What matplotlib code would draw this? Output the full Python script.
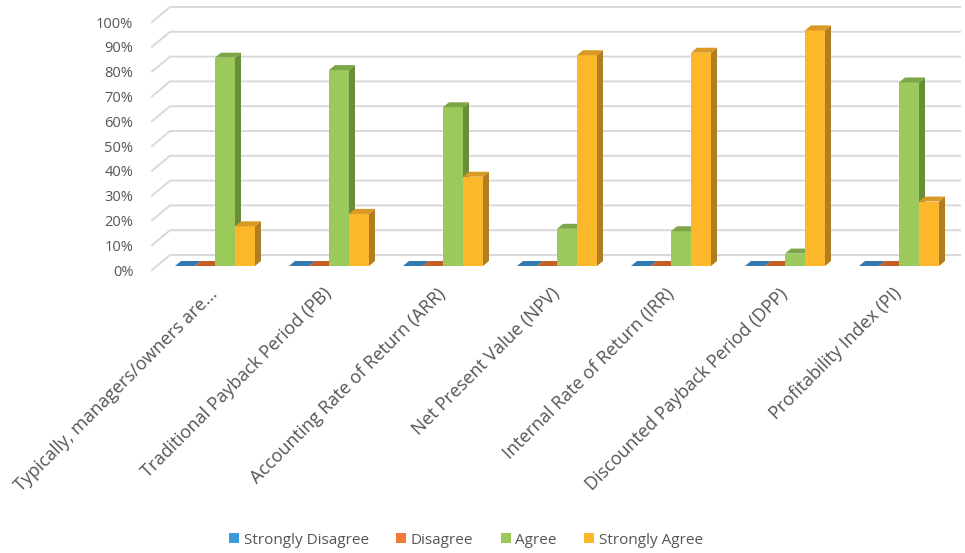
import numpy as np
import matplotlib.pyplot as plt
from matplotlib.patches import Polygon, Patch
from matplotlib.transforms import ScaledTranslation

plt.rcParams['font.family'] = ['Open Sans', 'DejaVu Sans']

# ================= DATA ================= #
categories = [
    "Typically, managers/owners are...",
    "Traditional Payback Period (PB)",
    "Accounting Rate of Return (ARR)",
    "Net Present Value (NPV)",
    "Internal Rate of Return (IRR)",
    "Discounted Payback Period (DPP)",
    "Profitability Index (PI)",
]
series_names = ["Strongly Disagree", "Disagree", "Agree", "Strongly Agree"]
strongly_disagree = [0.0, 0.0, 0.0, 0.0, 0.0, 0.0, 0.0]
disagree = [0.0, 0.0, 0.0, 0.0, 0.0, 0.0, 0.0]
agree = [0.84, 0.79, 0.64, 0.15, 0.14, 0.05, 0.74]
strongly_agree = [0.16, 0.21, 0.36, 0.85, 0.86, 0.95, 0.26]
y_ticks = [0.0, 0.1, 0.2, 0.3, 0.4, 0.5, 0.6, 0.7, 0.8, 0.9, 1.0]
y_tick_labels = ["0%", "10%", "20%", "30%", "40%", "50%", "60%", "70%", "80%", "90%", "100%"]

# ================= STYLE ================= #
# (front, side, top) colours per series
FACE = {
    "Strongly Disagree": ("#3A8FD0", "#2A6A9C", "#3379B0"),
    "Disagree": ("#E8702C", "#A9521F", "#C65F25"),
    "Agree": ("#9CC95C", "#6A8D3A", "#7DA648"),
    "Strongly Agree": ("#FCB72B", "#B07D22", "#D99A25"),
}
LEGEND_COLORS = ["#3A9AD9", "#F07B34", "#9BC95A", "#FBB82C"]
TEXT = "#555555"
GRID = "#D9D9D9"

W, H = 965, 553
XL, XR = -0.570, 6.535
PX_X = (XR - XL) / 810.0   # data units per pixel (x)
PX_Y = 1.0 / 248.0         # data units per pixel (y)
BAR_W = 20 * PX_X
DX, DY = 6 * PX_X, 5 * PX_Y

fig = plt.figure(figsize=(W / 100, H / 100), dpi=100)
ax = fig.add_axes([150 / W, (H - 266) / H, 810 / W, 248 / H])
ax.set_xlim(XL, XR)
ax.set_ylim(0, 1)
for s in ax.spines.values():
    s.set_visible(False)

# ---- back wall grid with slanted floor edge ----
for v in y_ticks:
    xs = [XL + 2 * PX_X, XL + 20 * PX_X, XR]
    ys = [v - 4 * PX_Y, v + 11 * PX_Y, v + 11 * PX_Y]
    ax.plot(xs, ys, color=GRID, lw=1.4, clip_on=False, zorder=0)

# ---- bars ----
values = [strongly_disagree, disagree, agree, strongly_agree]
x = np.arange(len(categories))
offsets = [-2, -1, 0, 1]
z = 2
for i in range(len(categories)):
    for j, name in enumerate(series_names):
        front, side, top = FACE[name]
        left = x[i] + offsets[j] * BAR_W
        h = values[j][i]
        ax.bar(left, h, width=BAR_W, align="edge", color=front,
               edgecolor="none", zorder=z)
        ax.add_patch(Polygon([(left + BAR_W, 0), (left + BAR_W + DX, DY),
                              (left + BAR_W + DX, h + DY), (left + BAR_W, h)],
                             closed=True, facecolor=side, edgecolor="none",
                             zorder=z, clip_on=False))
        ax.add_patch(Polygon([(left, h), (left + BAR_W, h),
                              (left + BAR_W + DX, h + DY), (left + DX, h + DY)],
                             closed=True, facecolor=top, edgecolor="none",
                             zorder=z, clip_on=False))
        z += 1

# ---- axes labels ----
ax.set_yticks(y_ticks)
ax.set_yticklabels(y_tick_labels, fontsize=10.5, color=TEXT)
ax.tick_params(axis="y", length=0, pad=12)
for lab in ax.get_yticklabels():
    lab.set_transform(lab.get_transform() + ScaledTranslation(0, -4 / 100, fig.dpi_scale_trans))

ax.set_xticks(x)
ax.set_xticklabels(categories, rotation=45, ha="right", va="center",
                   rotation_mode="anchor", fontsize=13, color=TEXT)
ax.tick_params(axis="x", length=0, pad=18)

handles = [Patch(facecolor=c, edgecolor="none") for c in LEGEND_COLORS]
fig.legend(handles, series_names, loc="center", bbox_to_anchor=(466 / W, 1 - 540 / H),
           ncol=4, frameon=False, fontsize=11, handlelength=0.65, handleheight=0.65,
           handletextpad=0.3, columnspacing=1.8, labelcolor=TEXT)

fig.savefig("out.png", dpi=100, facecolor="white")
